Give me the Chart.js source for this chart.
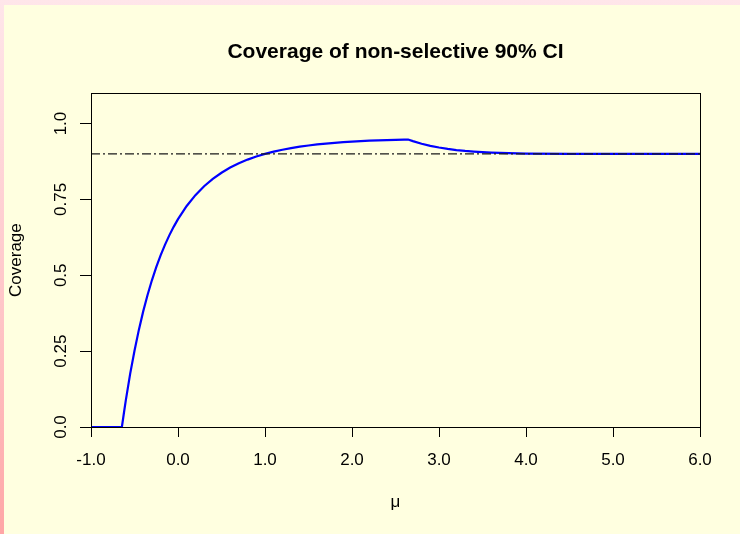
<!DOCTYPE html>
<html>
<head>
<meta charset="utf-8">
<script src="https://cdn.jsdelivr.net/npm/chart.js@4/dist/chart.umd.min.js"></script>
<style>
  html, body { margin: 0; padding: 0; width: 740px; height: 534px; overflow: hidden; }
  body { background: linear-gradient(to bottom, #FFE6EA 0%, #FFC4C6 60%, #FFA6A6 100%); position: relative; }
  #panel { position: absolute; left: 4px; top: 5px; right: 0; bottom: 0; background: #FFFFE0; }
  #c { position: absolute; left: 0; top: 0; }
</style>
</head>
<body>
<div id="panel"></div>
<canvas id="c" width="740" height="534"></canvas>
<script>
// Coverage curve of the non-selective 90% interval, as a function of mu
const muValues = [-1.0, -0.645, -0.62, -0.6, -0.55, -0.5, -0.45, -0.4, -0.35, -0.3, -0.25, -0.2, -0.15, -0.1, -0.05,
  0.0, 0.1, 0.2, 0.3, 0.4, 0.5, 0.6, 0.7, 0.8, 0.9, 1.0, 1.1, 1.2, 1.3, 1.4, 1.5, 1.6, 1.7, 1.8, 1.9, 2.0,
  2.1, 2.2, 2.3, 2.4, 2.5, 2.6, 2.645, 2.7, 2.8, 2.9, 3.0, 3.1, 3.2, 3.3, 3.4, 3.5, 3.6, 3.8, 4.0, 4.5, 5.0, 6.0];
const coverage = [0, 0, 0.0494, 0.0876, 0.175, 0.2515, 0.320, 0.381, 0.435, 0.4835, 0.5265, 0.5656, 0.6003, 0.6315, 0.6596,
  0.6849, 0.7284, 0.764, 0.7934, 0.8177, 0.8379, 0.8549, 0.8691, 0.8812, 0.8913, 0.9, 0.9074, 0.9137, 0.9191, 0.9237, 0.9277, 0.9311, 0.9340, 0.9366, 0.9387, 0.9406,
  0.9422, 0.9435, 0.9446, 0.9456, 0.9464, 0.9471, 0.9474, 0.9420, 0.9335, 0.9266, 0.9210, 0.9164, 0.9127, 0.9097, 0.9074, 0.9056, 0.9042, 0.9023, 0.9012, 0.9002, 0.9000, 0.9000];

// Nominal level reference line
const nominalMu = [-1.0, 6.0];
const nominalLevel = [0.9, 0.9];

// Axis ticks
const xTicks = [-1, 0, 1, 2, 3, 4, 5, 6];
const xTickLabels = ['-1.0', '0.0', '1.0', '2.0', '3.0', '4.0', '5.0', '6.0'];
const yTicks = [0, 0.25, 0.5, 0.75, 1.0];
const yTickLabels = ['0.0', '0.25', '0.5', '0.75', '1.0'];

const FONT = 'Liberation Sans, Arial, Helvetica, sans-serif';

const toPoints = (xs, ys) => xs.map((x, i) => ({ x: x, y: ys[i] }));

// Frame around the plotting region
const boxPlugin = {
  id: 'box',
  afterDraw(chart) {
    const { ctx, chartArea: a } = chart;
    ctx.save();
    ctx.strokeStyle = '#000';
    ctx.lineWidth = 1;
    ctx.strokeRect(Math.round(a.left) + 0.5, Math.round(a.top) + 0.5,
      Math.round(a.right - a.left), Math.round(a.bottom - a.top));
    ctx.restore();
  }
};

new Chart(document.getElementById('c'), {
  type: 'line',
  data: {
    datasets: [
      {
        label: 'nominal',
        data: toPoints(nominalMu, nominalLevel),
        borderColor: '#1a1a1a',
        borderWidth: 1.1,
        borderDash: [9, 3, 2, 3],
        pointRadius: 0,
        fill: false,
        order: 0
      },
      {
        label: 'coverage',
        data: toPoints(muValues, coverage),
        borderColor: '#0000FF',
        borderWidth: 2.2,
        pointRadius: 0,
        tension: 0,
        fill: false,
        order: 1
      }
    ]
  },
  options: {
    responsive: false,
    animation: false,
    devicePixelRatio: 1,
    layout: { padding: { left: 0, right: 40, top: 0, bottom: 0 } },
    plugins: {
      legend: { display: false },
      tooltip: { enabled: false },
      title: {
        display: true,
        fullSize: false,
        text: 'Coverage of non-selective 90% CI',
        color: '#000',
        font: { family: FONT, size: 21, weight: 'bold' },
        padding: { top: 40, bottom: 28 }
      }
    },
    scales: {
      x: {
        type: 'linear',
        min: -1,
        max: 6,
        afterBuildTicks(scale) { scale.ticks = xTicks.map(v => ({ value: v })); },
        afterFit(scale) { scale.height = 107; },
        ticks: {
          color: '#000',
          font: { family: FONT, size: 17 },
          padding: 13,
          maxRotation: 0,
          autoSkip: false,
          callback: (v) => xTickLabels[xTicks.indexOf(v)]
        },
        grid: { drawOnChartArea: false, drawTicks: true, tickLength: 10, tickColor: '#000', lineWidth: 1 },
        border: { display: true, color: '#000', width: 1 },
        title: {
          display: true,
          text: 'μ',
          color: '#000',
          font: { family: FONT, size: 17 },
          padding: { top: 0, bottom: 21 }
        }
      },
      y: {
        type: 'linear',
        min: 0,
        max: 1.1,
        afterBuildTicks(scale) { scale.ticks = yTicks.map(v => ({ value: v })); },
        afterFit(scale) { scale.width = 91; },
        ticks: {
          color: '#000',
          font: { family: FONT, size: 17 },
          padding: 2,
          minRotation: 90,
          maxRotation: 90,
          crossAlign: 'center',
          autoSkip: false,
          callback: (v) => yTickLabels[yTicks.indexOf(v)]
        },
        grid: { drawOnChartArea: false, drawTicks: true, tickLength: 11, tickColor: '#000', lineWidth: 1 },
        border: { display: true, color: '#000', width: 1 },
        title: {
          display: true,
          text: 'Coverage',
          color: '#000',
          font: { family: FONT, size: 17 },
          padding: { top: 6, bottom: 0 }
        }
      }
    }
  },
  plugins: [boxPlugin]
});
</script>
</body>
</html>
